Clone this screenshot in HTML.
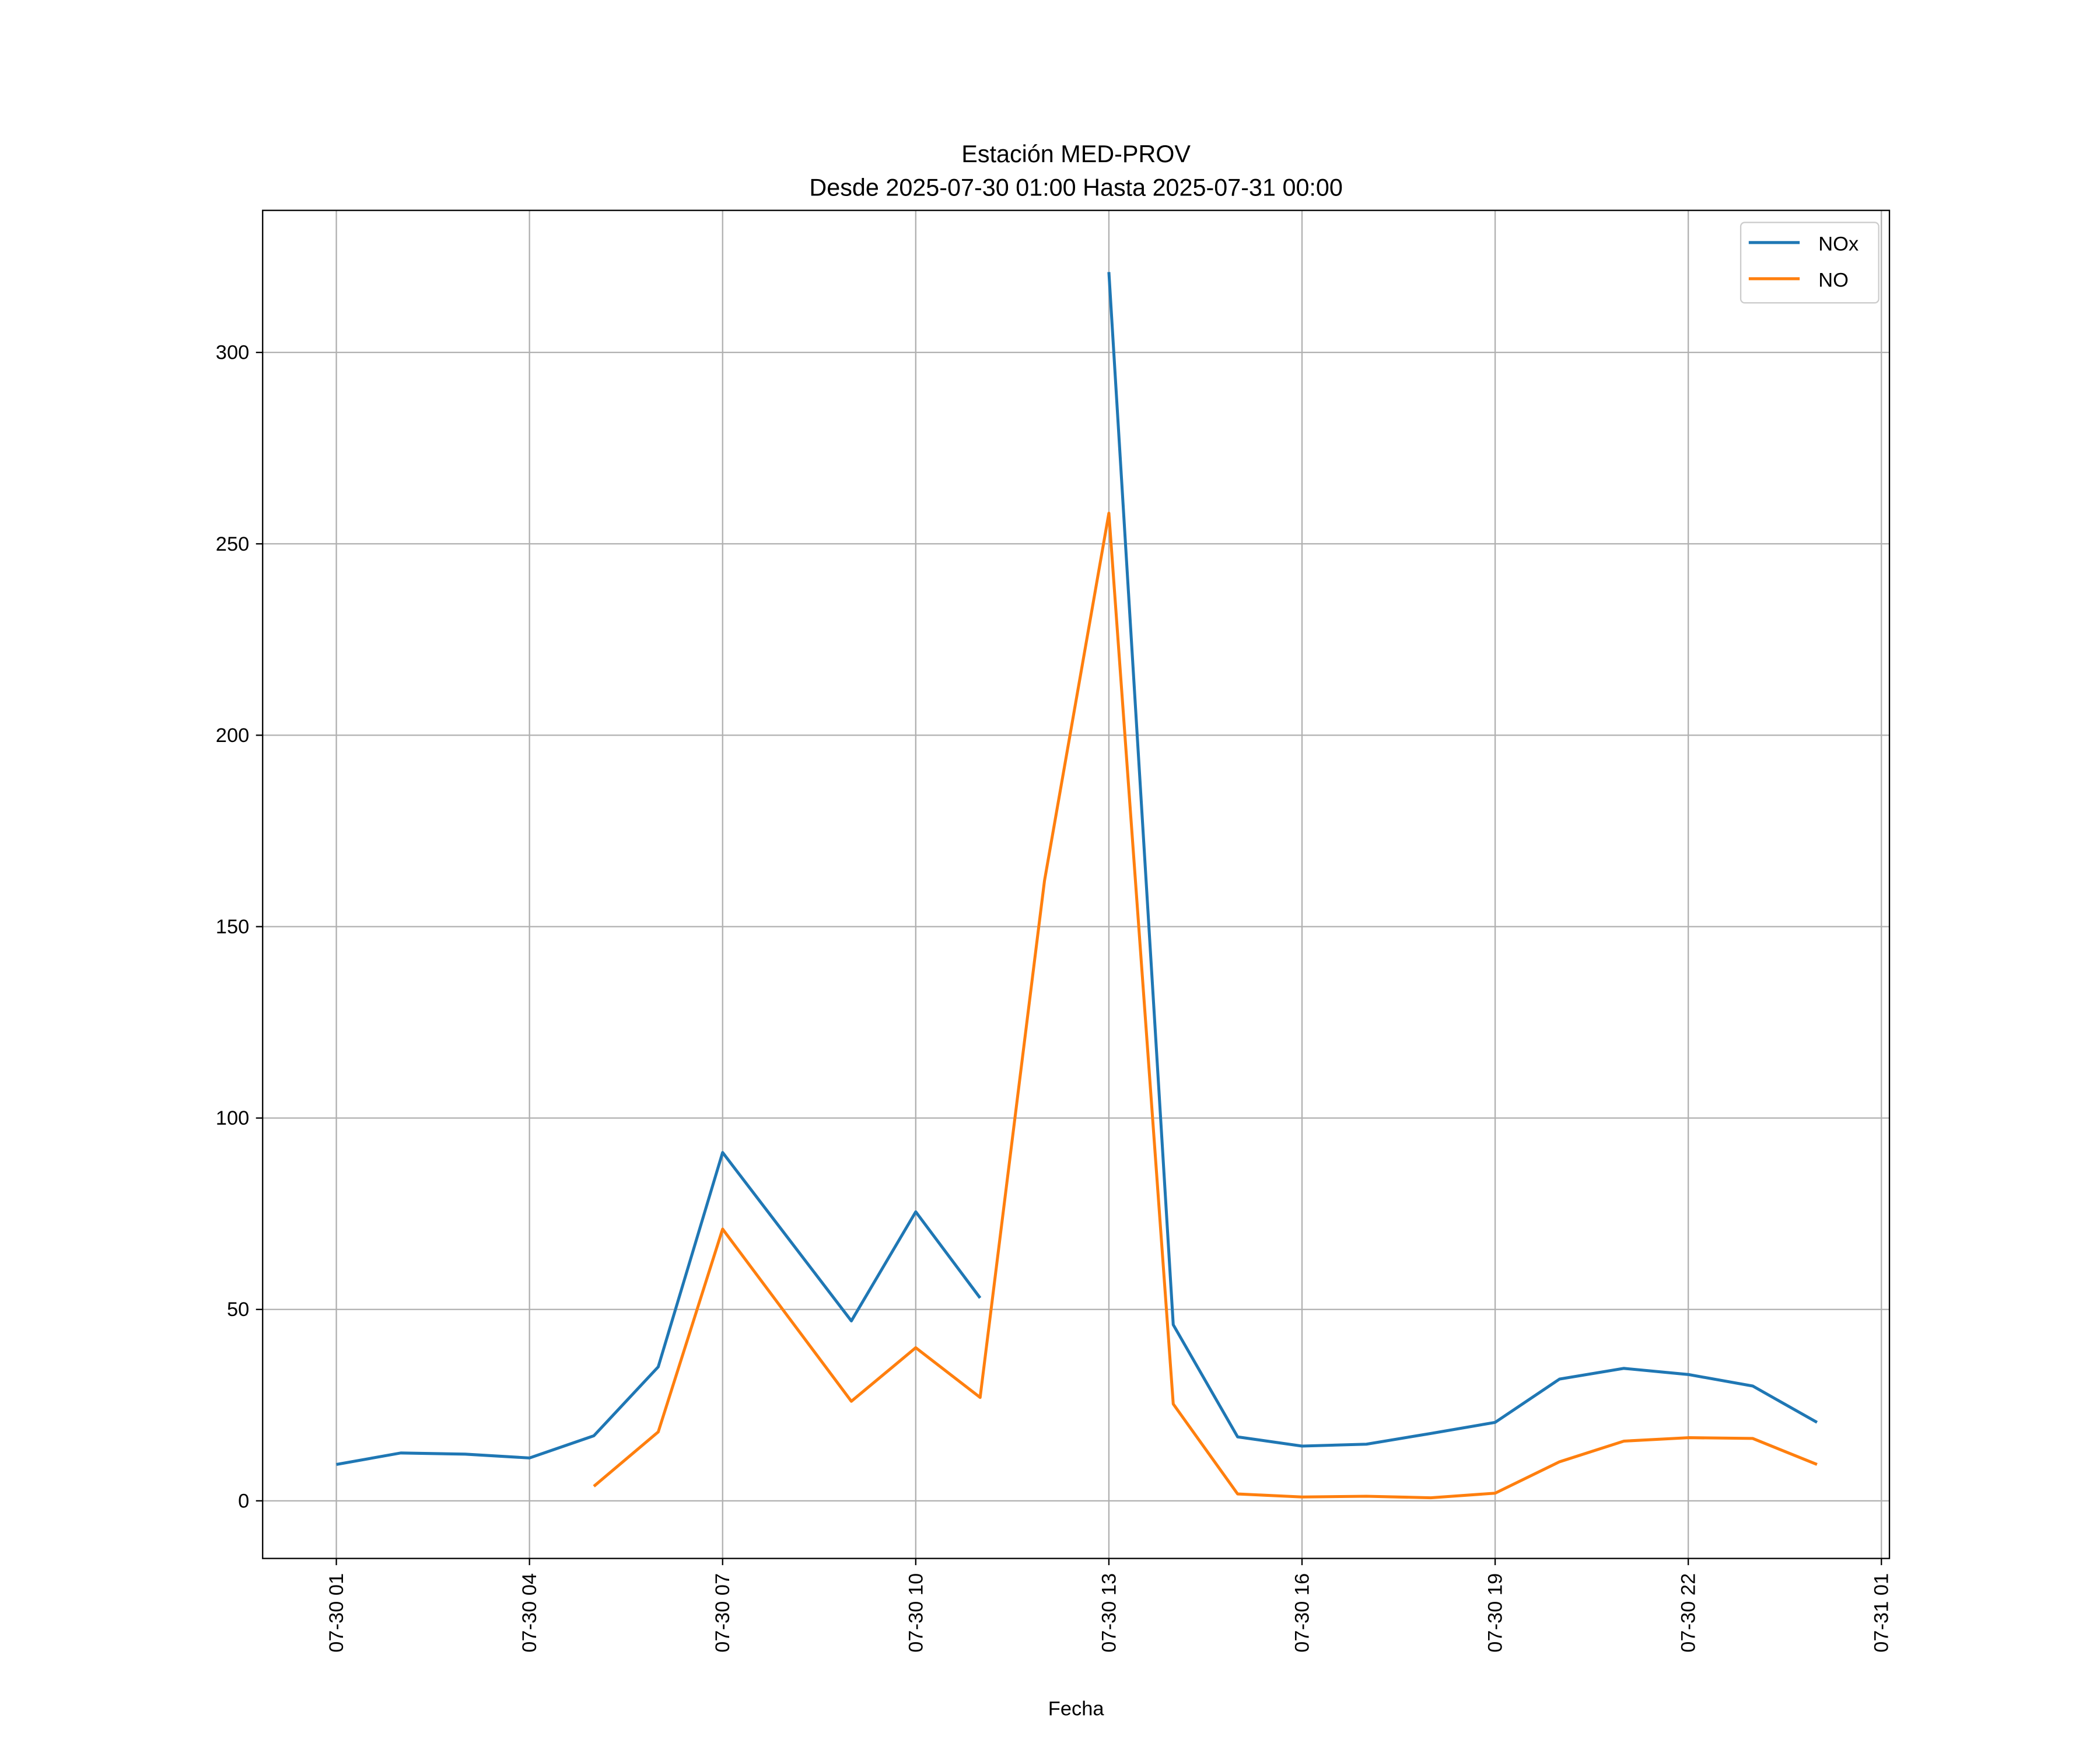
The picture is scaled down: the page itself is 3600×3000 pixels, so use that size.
<!DOCTYPE html>
<html><head><meta charset="utf-8"><style>html,body{margin:0;padding:0;background:#fff}svg{display:block}text{font-family:"Liberation Sans","DejaVu Sans",sans-serif;fill:#000}</style></head>
<body>
<svg id="chart" width="3600" height="3000" viewBox="0 0 1560 1300" xmlns="http://www.w3.org/2000/svg">
<rect width="1560" height="1300" fill="#fff"/>
<g transform="scale(0.99545)">
<g id="grid"></g>
<g id="series"></g>
<rect x="196" y="157" width="1214" height="1006" fill="none" stroke="#000" stroke-width="1"/>
<g id="ticks"></g>
<text x="803" y="121" text-anchor="middle" font-size="18">Estación MED-PROV</text>
<text x="803" y="146" text-anchor="middle" font-size="18">Desde 2025-07-30 01:00 Hasta 2025-07-31 00:00</text>
<text x="803" y="1280" text-anchor="middle" font-size="15">Fecha</text>
<g>
<rect x="1299" y="166" width="103" height="60" rx="3" fill="#fff" stroke="#ccc"/>
<line x1="1305" y1="181" x2="1343" y2="181" stroke="#1f77b4" stroke-width="2.2"/>
<text x="1357" y="187" font-size="15">NOx</text>
<line x1="1305" y1="208" x2="1343" y2="208" stroke="#ff7f0e" stroke-width="2.2"/>
<text x="1357" y="214" font-size="15">NO</text>
</g>
</g>
</svg>
<script>
const hours = [0,1,2,3,4,5,6,7,8,9,10,11,12,13,14,15,16,17,18,19,20,21,22,23];
const noxValues = [9.5,12.5,12.2,11.2,17,35,91,69,47,75.5,53,null,321,46,16.7,14.3,14.8,17.6,20.5,31.8,34.6,33,30,20.5];
const noValues = [null,null,null,null,3.8,18,71,48.5,26,40,27,162,258,25.3,1.8,1,1.2,0.8,2,10.2,15.6,16.5,16.3,9.5];
const yTicks = [0,50,100,150,200,250,300];
const xTickHours = [0,3,6,9,12,15,18,21,24];
const xTickLabels = ["07-30 01","07-30 04","07-30 07","07-30 10","07-30 13","07-30 16","07-30 19","07-30 22","07-31 01"];
const NS="http://www.w3.org/2000/svg";
function xs(h){return 251+h*(1404-251)/24;}
function ys(v){return 1120-v*(1120-263)/300;}
const grid=document.getElementById('grid'),ticks=document.getElementById('ticks'),series=document.getElementById('series');
function mk(tag,attrs,parent){const e=document.createElementNS(NS,tag);for(const k in attrs)e.setAttribute(k,attrs[k]);parent.appendChild(e);return e;}
yTicks.forEach(v=>{
  const g=mk('line',{x1:196,x2:1410,y1:ys(v),y2:ys(v),stroke:'#b0b0b0','stroke-width':1},grid);
  
  
  const t=mk('line',{x1:191,x2:196,y1:ys(v),y2:ys(v),stroke:'#000'},ticks);
  
  
  const l=mk('text',{x:186,y:ys(v)+5,'text-anchor':'end','font-size':15},ticks);
  l.textContent=v;
  
  
});
xTickHours.forEach((h,i)=>{
  const x=xs(h);
  const g=mk('line',{x1:x,x2:x,y1:157,y2:1163,stroke:'#b0b0b0','stroke-width':1},grid);
  
  
  const t=mk('line',{x1:x,x2:x,y1:1163,y2:1168,stroke:'#000'},ticks);
  
  
  const l=mk('text',{x:0,y:0,'text-anchor':'end','font-size':15,transform:`translate(${x+5},1174) rotate(-90)`},ticks);
  l.textContent=xTickLabels[i];
  
  
});
function drawSeries(vals,color,name){
  let d='',pen=false;
  vals.forEach((v,i)=>{
    if(v===null){pen=false;return;}
    d+=(pen?'L':'M')+xs(hours[i]).toFixed(2)+' '+ys(v).toFixed(2)+' ';pen=true;
  });
  const p=mk('path',{d:d,fill:'none',stroke:color,'stroke-width':2.2,'stroke-linejoin':'round'},series);
  
  
}
drawSeries(noxValues,'#1f77b4','nox-line');
drawSeries(noValues,'#ff7f0e','no-line');
</script>
</body></html>
